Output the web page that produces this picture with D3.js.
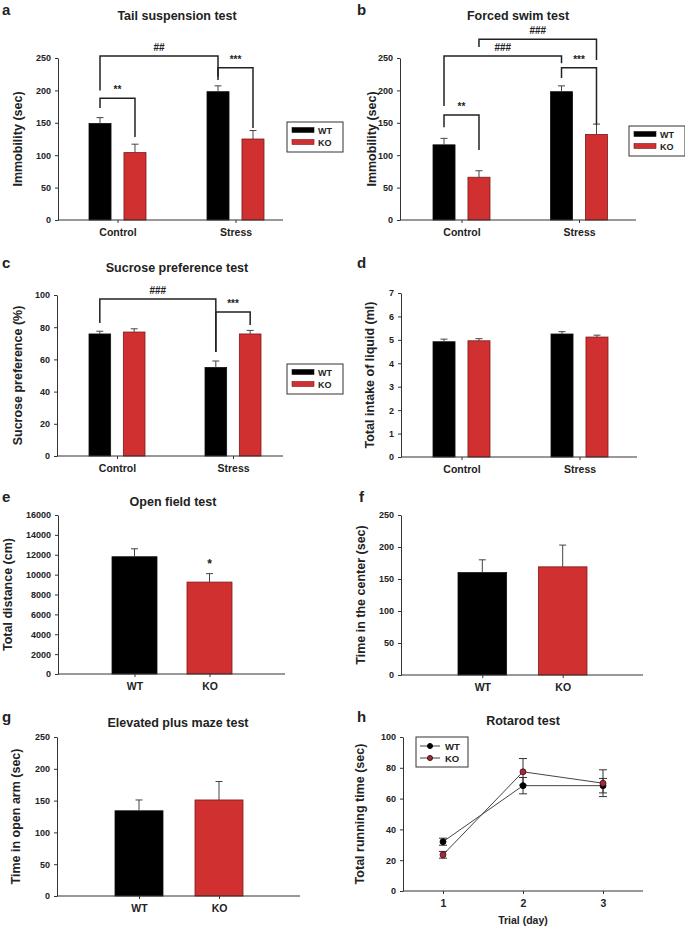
<!DOCTYPE html>
<html>
<head>
<meta charset="utf-8">
<script src="https://cdn.jsdelivr.net/npm/d3@7"></script>
<style>
  body { margin: 0; background: #fff; }
  svg text { font-family: "Liberation Sans", Arial, sans-serif; font-weight: bold; fill: #222; }
</style>
</head>
<body>
<script>
// ---- data ----
var groups = ["Control", "Stress"];
var genotypes = ["WT", "KO"];

// a: tail suspension (sec)
var tailMean = [[149, 104], [198, 125]];
var tailErr  = [[9, 13], [9, 13]];
// b: forced swim (sec)
var swimMean = [[116, 66], [198, 132]];
var swimErr  = [[10, 10], [9, 16]];
// c: sucrose preference (%)
var sucroseMean = [[75.8, 77], [55, 75.8]];
var sucroseErr  = [[1.7, 2], [4, 2.2]];
// d: liquid intake (ml)
var intakeMean = [[4.92, 4.96], [5.25, 5.12]];
var intakeErr  = [[0.11, 0.09], [0.1, 0.08]];
// e-g: WT vs KO
var openFieldMean = [11800, 9250];
var openFieldErr  = [800, 850];
var centerMean = [160, 169];
var centerErr  = [20, 34];
var mazeMean = [134, 151];
var mazeErr  = [17, 29];
// h: rotarod
var days = [1, 2, 3];
var rotaWT    = [32, 68.4, 68.4];
var rotaWTErr = [2.3, 5.3, 4.7];
var rotaKO    = [23.5, 77.4, 70];
var rotaKOErr = [2.2, 8.6, 8.7];

// significance brackets: [group,series] from -> to, left foot, top, right foot (data units)
var tailBrackets = [
  {from: [0, 0], to: [1, 0], y0: 200, top: 253, y1: 216, label: "##"},
  {from: [0, 0], to: [0, 1], y0: 173, top: 188, y1: 128, label: "**"},
  {from: [1, 0], to: [1, 1], y0: 221, top: 235, y1: 142, label: "***"}
];
var swimBrackets = [
  {from: [0, 0], to: [1, 0], y0: 176, top: 253, y1: 242, label: "###"},
  {from: [0, 1], to: [1, 1], y0: 267, top: 279, y1: 247, label: "###"},
  {from: [0, 0], to: [0, 1], y0: 143, top: 162, y1: 108, label: "**"},
  {from: [1, 0], to: [1, 1], y0: 219, top: 235, y1: 147, label: "***"}
];
var sucroseBrackets = [
  {from: [0, 0], to: [1, 0], y0: 82.6, top: 97.5, y1: 64.6, label: "###"},
  {from: [1, 0], to: [1, 1], y0: 64.6, top: 89.4, y1: 81.4, label: "***"}
];

var colors = {WT: "#000000", KO: "#d03030"};
var strokes = {WT: "#111", KO: "#7a1a1a"};

var svg = d3.select("body").append("svg")
    .attr("width", 685)
    .attr("height", 929);

function panelLetter(t, x, y) {
  svg.append("text").attr("x", x).attr("y", y).style("font-size", "15px").text(t);
}
function title(t, x, y) {
  svg.append("text").attr("x", x).attr("y", y).attr("text-anchor", "middle")
    .style("font-size", "12.5px").text(t);
}
function yAxis(y, x0, ticks, label, lx) {
  var g = svg.append("g").attr("transform", "translate(" + x0 + ",0)")
    .call(d3.axisLeft(y).tickValues(ticks).tickFormat(d3.format("d"))
      .tickSize(3).tickSizeOuter(0).tickPadding(4));
  g.select(".domain").attr("stroke", "#333");
  g.selectAll(".tick line").attr("stroke", "#333");
  g.selectAll(".tick text").style("font-size", "9px").attr("fill", "#222");
  var ym = (y.range()[0] + y.range()[1]) / 2;
  svg.append("text").attr("transform", "translate(" + lx + "," + ym + ") rotate(-90)")
    .attr("text-anchor", "middle").style("font-size", "12.5px").text(label);
}
function xAxis(x, x0, x1, yb, labels, size) {
  svg.append("line").attr("x1", x0).attr("x2", x1).attr("y1", yb).attr("y2", yb)
    .attr("stroke", "#333");
  var g = svg.append("g").attr("transform", "translate(0," + yb + ")")
    .call(d3.axisBottom(x).tickSize(3).tickSizeOuter(0).tickPadding(6));
  g.select(".domain").remove();
  g.selectAll(".tick line").attr("stroke", "#333");
  g.selectAll(".tick text").style("font-size", size || "10.5px").attr("fill", "#222");
  if (labels) g.selectAll(".tick text").text(function(d, i) { return labels[i]; });
}
function errBar(g, cx, ytop, ybar) {
  g.append("line").attr("x1", cx).attr("x2", cx).attr("y1", ybar).attr("y2", ytop)
    .attr("stroke", "#444").attr("stroke-width", 1);
  g.append("line").attr("x1", cx - 3.5).attr("x2", cx + 3.5).attr("y1", ytop).attr("y2", ytop)
    .attr("stroke", "#444").attr("stroke-width", 1);
}
function legendBox(x, y) {
  var g = svg.append("g").attr("transform", "translate(" + x + "," + y + ")");
  g.append("rect").attr("width", 56).attr("height", 30).attr("fill", "#fff")
    .attr("stroke", "#333").attr("stroke-width", 1);
  genotypes.forEach(function(s, i) {
    g.append("rect").attr("x", 5).attr("y", 8 + i * 12 - 2.5).attr("width", 22).attr("height", 5)
      .attr("fill", colors[s]).attr("stroke", strokes[s]).attr("stroke-width", 0.6);
    g.append("text").attr("x", 31).attr("y", 8 + i * 12 + 3.5).style("font-size", "9px").text(s);
  });
}

// grouped bar panel (a-d)
function groupedPanel(p) {
  var y = d3.scaleLinear().domain([0, p.max]).range([p.yb, p.yt]);
  var x = d3.scalePoint().domain(groups).range(p.centers);
  var inner = d3.scaleBand().domain(genotypes).range([-p.half, p.half]).paddingInner(p.pad);
  yAxis(y, p.x0, p.ticks, p.label, p.lx);
  var g = svg.append("g");
  groups.forEach(function(grp, gi) {
    genotypes.forEach(function(s, si) {
      var bx = x(grp) + inner(s);
      var v = p.mean[gi][si];
      g.append("rect").attr("x", bx).attr("y", y(v)).attr("width", inner.bandwidth())
        .attr("height", y(0) - y(v)).attr("fill", colors[s]).attr("stroke", strokes[s])
        .attr("stroke-width", 0.8);
      errBar(g, bx + inner.bandwidth() / 2, y(v + p.err[gi][si]), y(v));
    });
  });
  xAxis(x, p.x0, p.x1, p.yb);
  (p.brackets || []).forEach(function(b) {
    var xa = x(groups[b.from[0]]) + inner(genotypes[b.from[1]]) + inner.bandwidth() / 2;
    var xb = x(groups[b.to[0]]) + inner(genotypes[b.to[1]]) + inner.bandwidth() / 2;
    g.append("path")
      .attr("d", "M" + xa + "," + y(b.y0) + "V" + y(b.top) + "H" + xb + "V" + y(b.y1))
      .attr("fill", "none").attr("stroke", "#222").attr("stroke-width", 1.5);
    g.append("text").attr("x", (xa + xb) / 2).attr("y", y(b.top) - 5)
      .attr("text-anchor", "middle").style("font-size", "10px").text(b.label);
  });
  if (p.legend) legendBox(p.legend[0], p.legend[1]);
}

// two-bar panel (e-g)
function simplePanel(p) {
  var y = d3.scaleLinear().domain([0, p.max]).range([p.yb, p.yt]);
  var x = d3.scaleBand().domain(genotypes).range(p.bars).paddingInner(p.pad);
  yAxis(y, p.x0, p.ticks, p.label, p.lx);
  var g = svg.append("g");
  genotypes.forEach(function(s, i) {
    var v = p.mean[i];
    g.append("rect").attr("x", x(s)).attr("y", y(v)).attr("width", x.bandwidth())
      .attr("height", y(0) - y(v)).attr("fill", colors[s]).attr("stroke", strokes[s])
      .attr("stroke-width", 0.8);
    errBar(g, x(s) + x.bandwidth() / 2, y(v + p.err[i]), y(v));
  });
  var xc = d3.scalePoint().domain(genotypes).range([x("WT") + x.bandwidth() / 2, x("KO") + x.bandwidth() / 2]);
  xAxis(xc, p.x0, p.x1, p.yb);
  if (p.star) {
    g.append("text").attr("x", xc(p.star[0])).attr("y", y(p.star[1]))
      .attr("text-anchor", "middle").style("font-size", "12px").text("*");
  }
}

// ---- panels ----
panelLetter("a", 2, 15);
title("Tail suspension test", 177, 20);
groupedPanel({x0: 58, x1: 283, yt: 58, yb: 220, max: 250, ticks: d3.range(0, 251, 50),
  centers: [117.5, 235.5], half: 28.5, pad: 0.37, mean: tailMean, err: tailErr,
  label: "Immobility (sec)", lx: 22, brackets: tailBrackets, legend: [287, 122]});

panelLetter("b", 357, 15);
title("Forced swim test", 518, 20);
groupedPanel({x0: 400, x1: 636, yt: 58, yb: 220, max: 250, ticks: d3.range(0, 251, 50),
  centers: [461.5, 579], half: 28.5, pad: 0.37, mean: swimMean, err: swimErr,
  label: "Immobility (sec)", lx: 376, brackets: swimBrackets, legend: [629, 126]});

panelLetter("c", 2, 268);
title("Sucrose preference test", 177, 272);
groupedPanel({x0: 57, x1: 283, yt: 295, yb: 456, max: 100, ticks: d3.range(0, 101, 20),
  centers: [117, 233], half: 28, pad: 0.37, mean: sucroseMean, err: sucroseErr,
  label: "Sucrose preference (%)", lx: 22, brackets: sucroseBrackets, legend: [287, 364]});

panelLetter("d", 357, 268);
groupedPanel({x0: 401, x1: 637, yt: 293, yb: 457, max: 7, ticks: d3.range(0, 8, 1),
  centers: [461.5, 579.5], half: 28.5, pad: 0.37, mean: intakeMean, err: intakeErr,
  label: "Total intake of liquid (ml)", lx: 374});

panelLetter("e", 2, 502);
title("Open field test", 173, 506);
simplePanel({x0: 58, x1: 285, yt: 515, yb: 674, max: 16000, ticks: d3.range(0, 16001, 2000),
  bars: [112, 232], pad: 0.4, mean: openFieldMean, err: openFieldErr,
  label: "Total distance (cm)", lx: 12, star: ["KO", 10700]});

panelLetter("f", 359, 502);
simplePanel({x0: 401, x1: 643, yt: 515, yb: 675, max: 250, ticks: d3.range(0, 251, 50),
  bars: [458, 587], pad: 0.395, mean: centerMean, err: centerErr,
  label: "Time in the center (sec)", lx: 365});

panelLetter("g", 2, 722);
title("Elevated plus maze test", 178, 727);
simplePanel({x0: 57, x1: 300, yt: 737, yb: 896, max: 250, ticks: d3.range(0, 251, 50),
  bars: [115, 243], pad: 0.4, mean: mazeMean, err: mazeErr,
  label: "Time in open arm (sec)", lx: 20});

// h: rotarod line chart
panelLetter("h", 357, 722);
title("Rotarod test", 523, 725);
(function() {
  var y = d3.scaleLinear().domain([0, 100]).range([891, 737]);
  var x = d3.scaleLinear().domain([0.5, 3.5]).range([403, 643]);
  yAxis(y, 403, d3.range(0, 101, 20), "Total running time (sec)", 364);
  svg.append("line").attr("x1", 403).attr("x2", 643).attr("y1", 891).attr("y2", 891).attr("stroke", "#333");
  var gx = svg.append("g").attr("transform", "translate(0,891)")
    .call(d3.axisBottom(x).tickValues(days).tickFormat(d3.format("d")).tickSize(3).tickPadding(6));
  gx.select(".domain").remove();
  gx.selectAll(".tick line").attr("stroke", "#333");
  gx.selectAll(".tick text").style("font-size", "10.5px").attr("fill", "#222");
  svg.append("text").attr("x", 523).attr("y", 924).attr("text-anchor", "middle")
    .style("font-size", "10.5px").text("Trial (day)");

  var series = [
    {name: "WT", mean: rotaWT, err: rotaWTErr, fill: "#000", stroke: "#000"},
    {name: "KO", mean: rotaKO, err: rotaKOErr, fill: "#a8283a", stroke: "#3a1010"}
  ];
  var line = d3.line().x(function(d, i) { return x(days[i]); }).y(function(d) { return y(d); });
  var g = svg.append("g");
  series.forEach(function(s) {
    g.append("path").attr("d", line(s.mean)).attr("fill", "none").attr("stroke", "#444").attr("stroke-width", 1);
  });
  series.forEach(function(s) {
    s.mean.forEach(function(m, i) {
      var cx = x(days[i]);
      [m + s.err[i], m - s.err[i]].forEach(function(e) {
        g.append("line").attr("x1", cx).attr("x2", cx).attr("y1", y(m)).attr("y2", y(e)).attr("stroke", "#333");
        g.append("line").attr("x1", cx - 4).attr("x2", cx + 4).attr("y1", y(e)).attr("y2", y(e)).attr("stroke", "#333");
      });
    });
  });
  series.forEach(function(s) {
    g.selectAll(null).data(s.mean).enter().append("circle")
      .attr("cx", function(d, i) { return x(days[i]); })
      .attr("cy", function(d) { return y(d); })
      .attr("r", 3).attr("fill", s.fill).attr("stroke", s.stroke).attr("stroke-width", 0.8);
  });

  // legend
  var lg = svg.append("g").attr("transform", "translate(416,737)");
  lg.append("rect").attr("width", 52).attr("height", 30).attr("fill", "#fff").attr("stroke", "#333");
  series.forEach(function(s, i) {
    var yy = 9 + i * 12;
    lg.append("line").attr("x1", 4).attr("x2", 24).attr("y1", yy).attr("y2", yy).attr("stroke", "#444");
    lg.append("circle").attr("cx", 14).attr("cy", yy).attr("r", 2.5).attr("fill", s.fill).attr("stroke", s.stroke);
    lg.append("text").attr("x", 29).attr("y", yy + 3.5).style("font-size", "9.5px").text(s.name);
  });
})();
</script>
</body>
</html>
